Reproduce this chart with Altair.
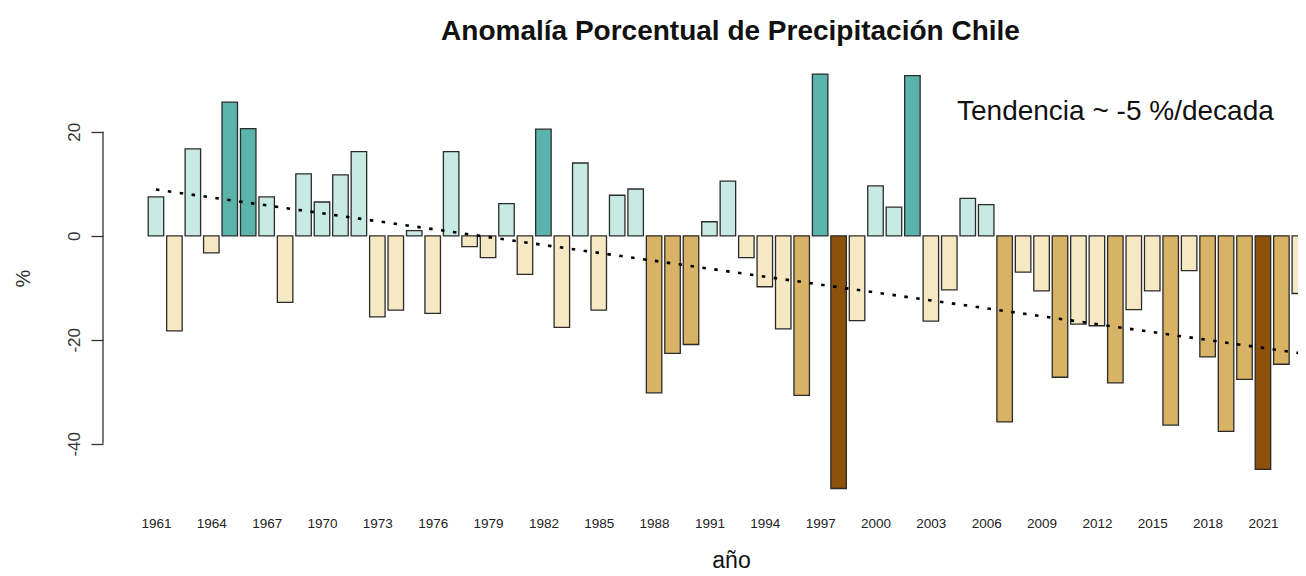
import altair as alt
import pandas as pd

years = list(range(1961, 2024))
anomalia = [7.5, -18.3, 16.7, -3.3, 25.7, 20.6, 7.5, -12.8, 11.9, 6.5,
            11.7, 16.2, -15.6, -14.3, 1.0, -14.9, 16.2, -2.1, -4.2, 6.2,
            -7.4, 20.5, -17.6, 14.0, -14.3, 7.8, 9.0, -30.2, -22.6, -20.9,
            2.7, 10.5, -4.2, -9.8, -17.9, -30.7, 31.1, -48.6, -16.3, 9.6,
            5.5, 30.8, -16.4, -10.4, 7.2, 6.0, -35.8, -7.0, -10.6, -27.2,
            -17.0, -17.3, -28.3, -14.2, -10.6, -36.4, -6.7, -23.3, -37.6, -27.6,
            -44.9, -24.7, -11.1]
tick_years = list(range(1961, 2022, 3))
y_ticks = [-40, -20, 0, 20]
color_breaks = [-40, -20, 0, 20]
palette = ["#8c510a", "#d8b365", "#f6e8c3", "#c7eae5", "#5ab4ac"]
titulo = "Anomalía Porcentual de Precipitación Chile"
anotacion = "Tendencia ~ -5 %/decada"

FONT = "Liberation Sans"
df = pd.DataFrame({"anio": years, "anom": anomalia})

xscale = alt.Scale(domain=[1958.13, 2022.9], nice=False, zero=False)
yscale = alt.Scale(domain=[-51, 34], nice=False, zero=False)

xaxis = alt.Axis(values=tick_years, format="d", grid=False, domain=False, ticks=False,
                 labelPadding=15, labelFontSize=13.5, labelFont=FONT, labelColor="#222",
                 labelAngle=0, labelOverlap=False, labelFlush=False,
                 title="año", titleFont=FONT, titleFontSize=23, titleFontWeight="normal",
                 titleColor="#111", titleX=628, titleY=66, titleBaseline="alphabetic",
                 titleAlign="center")
yaxis = alt.Axis(values=y_ticks, grid=False, domain=False, tickSize=12, tickColor="#333",
                 tickWidth=1.3, labelExpr="'' + datum.value",
                 labelAngle=270, labelAlign="center", labelBaseline="alphabetic",
                 labelPadding=12, labelFontSize=17, labelFont=FONT, labelColor="#333",
                 title="%", titleFont=FONT, titleFontSize=20, titleFontWeight="normal",
                 titleColor="#333", titleAngle=270, titleX=-80, titleY=219,
                 titleAlign="center", titleBaseline="middle")

base = alt.Chart(df)

bars = base.transform_calculate(
    x0="datum.anio - 0.42", x1="datum.anio + 0.42"
).mark_bar(stroke="#2b2b2b", strokeWidth=1.3, clip=True).encode(
    x=alt.X("x0:Q", scale=xscale, axis=xaxis),
    x2="x1:Q",
    y=alt.Y("anom:Q", scale=yscale, axis=yaxis),
    y2=alt.datum(0),
    color=alt.Color("anom:Q", scale=alt.Scale(type="threshold", domain=color_breaks, range=palette),
                    legend=None),
)

trend = base.transform_regression("anio", "anom").mark_line(
    color="black", strokeDash=[3.5, 8.5], strokeWidth=2.6, clip=True
).encode(x=alt.X("anio:Q", scale=xscale), y=alt.Y("anom:Q", scale=yscale))

axis_line = alt.Chart(pd.DataFrame({"lo": [min(y_ticks)], "hi": [max(y_ticks)]})).mark_rule(
    color="#333", strokeWidth=1.3
).encode(x=alt.value(0), y=alt.Y("lo:Q", scale=yscale), y2="hi:Q")

annot = alt.Chart(pd.DataFrame({"t": [anotacion]})).mark_text(
    align="left", baseline="alphabetic", fontSize=28, font=FONT, color="#111"
).encode(x=alt.value(854), y=alt.value(61), text="t:N")

chart = alt.layer(bars, trend, axis_line, annot).properties(
    width=1195, height=442,
    title=alt.TitleParams(titulo, font=FONT, fontSize=28, fontWeight="bold", color="#111",
                          anchor="middle", frame="group", dx=30, dy=28, offset=19,
                          baseline="alphabetic"),
    autosize=alt.AutoSizeParams(type="none"),
    padding={"left": 95, "top": 51, "right": 0, "bottom": 75},
).configure(background="white").configure_view(strokeWidth=0)

chart.save("out.html", embed_options={"renderer": "svg", "actions": False})
